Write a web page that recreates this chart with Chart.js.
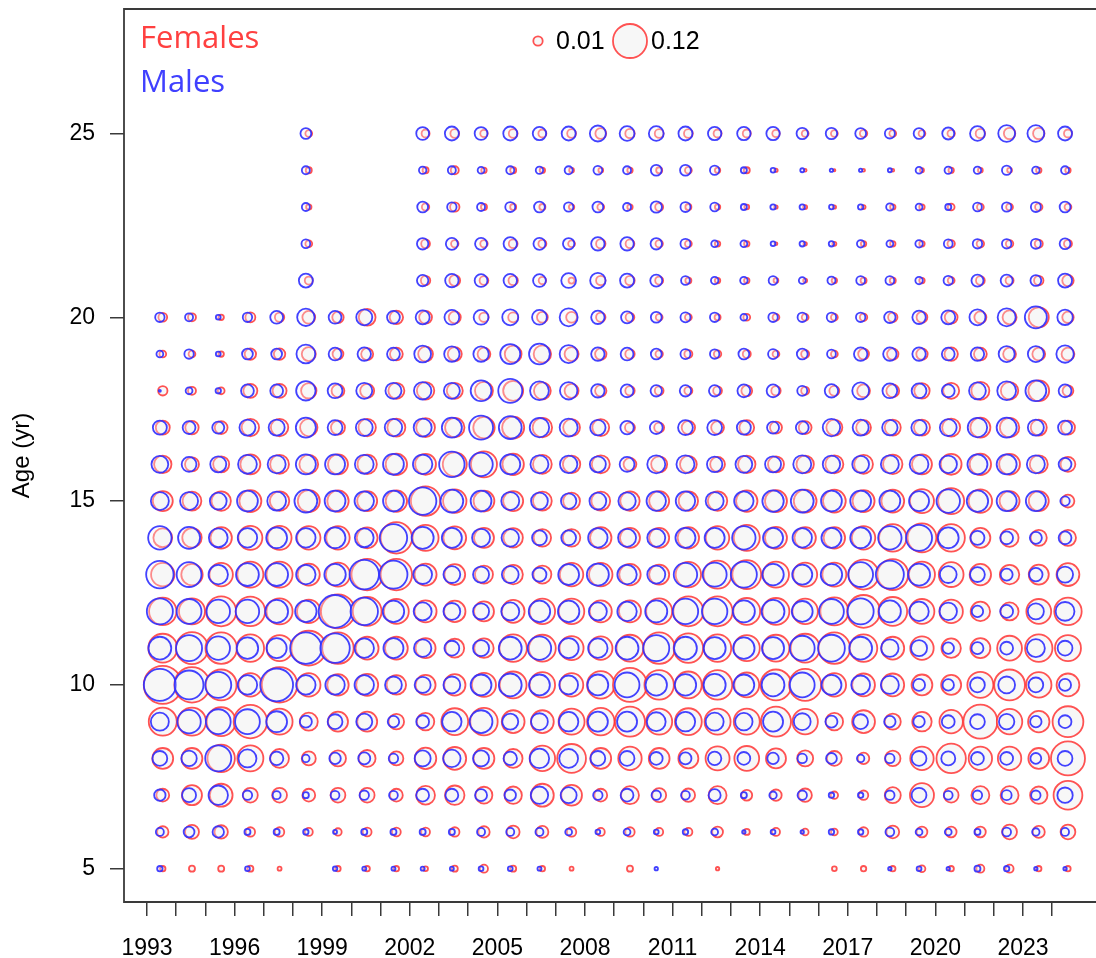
<!DOCTYPE html>
<html>
<head>
<meta charset="utf-8">
<script src="https://cdn.jsdelivr.net/npm/chart.js@4/dist/chart.umd.min.js"></script>
<style>
  html, body { margin: 0; padding: 0; background: #ffffff; }
  #wrap { width: 1096px; height: 958px; }
</style>
</head>
<body>
<div id="wrap"><canvas id="chart" width="1096" height="958"></canvas></div>
<script>
// Survey years and ages
const years = [1993,1994,1995,1996,1997,1998,1999,2000,2001,2002,2003,2004,2005,2006,2007,2008,
               2009,2010,2011,2012,2013,2014,2015,2016,2017,2018,2019,2020,2021,2022,2023,2024];
const ages = [5,6,7,8,9,10,11,12,13,14,15,16,17,18,19,20,21,22,23,24,25];
const yearTickLabels = [1993,1996,1999,2002,2005,2008,2011,2014,2017,2020,2023];
const ageTickLabels = [5,10,15,20,25];
const sizeKeyValues = [0.01, 0.12];

// Proportion at age, females, one array per age (1993..2024, null = not sampled)
const F5  = [.0036,.0044,.0044,.0044,.0021,null,.0036,.0036,.0036,.0029,.0044,.0074,.0044,.0036,.0021,null,.0044,null,null,.0016,null,null,null,.0029,.0036,.0036,.0055,.0036,.0074,.0074,.0036,.0036];
const F6  = [.0144,.0213,.0196,.0100,.0100,.0074,.0064,.0088,.0088,.0088,.0100,.0144,.0180,.0159,.0100,.0074,.0100,.0074,.0074,.0130,.0044,.0074,.0055,.0055,.0100,.0180,.0130,.0130,.0130,.0237,.0159,.0237];
const F7  = [.0180,.0424,.0548,.0237,.0237,.0180,.0237,.0237,.0180,.0376,.0400,.0303,.0324,.0548,.0458,.0180,.0346,.0213,.0196,.0346,.0130,.0144,.0196,.0064,.0100,.0276,.0605,.0237,.0346,.0346,.0324,.0864];
const F8  = [.0458,.0458,.0784,.0708,.0376,.0213,.0276,.0303,.0213,.0484,.0548,.0458,.0376,.0676,.0864,.0458,.0576,.0458,.0424,.0605,.0645,.0424,.0276,.0237,.0144,.0256,.0576,.0900,.0576,.0576,.0458,.1197];
const F9  = [.0818,.0818,.0864,.1156,.0708,.0346,.0424,.0424,.0256,.0324,.0751,.0784,.0548,.0548,.0708,.0784,.0936,.0708,.0751,.0708,.0708,.0936,.0676,.0324,.0548,.0276,.0400,.0576,.1197,.0676,.0484,.0986];
const F10 = [.1490,.1296,.0986,.0576,.1296,.0576,.0484,.0511,.0400,.0424,.0484,.0605,.0751,.0676,.0576,.0784,.1197,.0900,.0751,.0900,.0645,.0986,.1063,.0576,.0548,.0548,.0458,.0424,.0708,.0986,.0676,.0548];
const F11 = [.0864,.1063,.1024,.0784,.0708,.1253,.1024,.0548,.0548,.0424,.0376,.0400,.0784,.0751,.0605,.0576,.0751,.1024,.0900,.0784,.0708,.0751,.0864,.1024,.0784,.0548,.0576,.0400,.0424,.0645,.0784,.0708];
const F12 = [.0784,.0708,.0936,.0900,.0708,.0576,.1197,.0864,.0645,.0511,.0484,.0424,.0548,.0676,.0676,.0511,.0511,.0708,.0936,.0936,.0751,.0751,.0676,.0818,.1116,.0864,.0645,.0576,.0400,.0346,.0645,.0784];
const F13 = [.0576,.0484,.0576,.0708,.0708,.0511,.0605,.1024,.1024,.0511,.0458,.0346,.0400,.0346,.0576,.0576,.0484,.0424,.0676,.0818,.0864,.0708,.0605,.0605,.0936,.0986,.0708,.0645,.0484,.0400,.0424,.0548];
const F14 = [.0376,.0400,.0484,.0605,.0605,.0576,.0576,.0458,.1024,.0708,.0548,.0424,.0400,.0324,.0324,.0484,.0424,.0424,.0484,.0576,.0708,.0511,.0484,.0484,.0576,.0784,.0864,.0784,.0424,.0346,.0276,.0276];
const F15 = [.0424,.0376,.0400,.0511,.0400,.0511,.0484,.0424,.0484,.0900,.0576,.0458,.0424,.0376,.0303,.0376,.0400,.0424,.0400,.0400,.0484,.0511,.0548,.0548,.0511,.0548,.0605,.0708,.0576,.0424,.0424,.0180];
const F16 = [.0324,.0213,.0276,.0424,.0376,.0376,.0424,.0400,.0484,.0458,.0605,.0708,.0484,.0376,.0324,.0346,.0180,.0276,.0303,.0237,.0324,.0276,.0324,.0346,.0376,.0400,.0424,.0458,.0484,.0458,.0346,.0237];
const F17 = [.0213,.0196,.0180,.0324,.0324,.0324,.0213,.0324,.0346,.0376,.0400,.0484,.0511,.0400,.0303,.0303,.0112,.0112,.0196,.0180,.0237,.0159,.0180,.0276,.0237,.0276,.0276,.0346,.0424,.0400,.0276,.0213];
const F18 = [.0100,.0074,.0055,.0213,.0213,.0256,.0180,.0213,.0276,.0324,.0276,.0346,.0424,.0303,.0213,.0144,.0100,.0088,.0074,.0088,.0130,.0100,.0074,.0112,.0180,.0180,.0256,.0276,.0346,.0324,.0458,.0130];
const F19 = [.0055,.0055,.0036,.0144,.0144,.0213,.0130,.0159,.0180,.0237,.0213,.0180,.0303,.0324,.0213,.0144,.0100,.0064,.0074,.0064,.0074,.0055,.0074,.0055,.0130,.0144,.0144,.0196,.0180,.0180,.0180,.0180];
const F20 = [.0088,.0074,.0036,.0112,.0100,.0180,.0144,.0303,.0196,.0180,.0159,.0100,.0112,.0130,.0130,.0100,.0088,.0055,.0055,.0044,.0055,.0055,.0055,.0055,.0064,.0100,.0130,.0180,.0159,.0213,.0424,.0144];
const F21 = [null,null,null,null,null,.0074,null,null,null,.0100,.0130,.0088,.0100,.0064,.0044,.0100,.0100,.0074,.0044,.0036,.0036,.0029,.0021,.0036,.0044,.0044,.0036,.0055,.0088,.0074,.0100,.0144];
const F22 = [null,null,null,null,null,.0055,null,null,null,.0088,.0064,.0064,.0088,.0074,.0055,.0100,.0088,.0064,.0055,.0036,.0036,.0012,.0016,.0021,.0036,.0036,.0036,.0064,.0064,.0064,.0074,.0074];
const F23 = [null,null,null,null,null,.0036,null,null,null,.0064,.0100,.0044,.0044,.0044,.0036,.0055,.0036,.0074,.0044,.0036,.0029,.0016,.0021,.0016,.0021,.0036,.0036,.0055,.0055,.0055,.0064,.0055];
const F24 = [null,null,null,null,null,.0044,null,null,null,.0044,.0074,.0036,.0044,.0036,.0029,.0029,.0036,.0044,.0055,.0036,.0044,.0016,.0012,.0007,.0012,.0012,.0021,.0036,.0029,.0029,.0036,.0036];
const F25 = [null,null,null,null,null,.0055,null,null,null,.0074,.0088,.0064,.0088,.0074,.0088,.0130,.0100,.0088,.0088,.0074,.0074,.0064,.0055,.0055,.0064,.0055,.0055,.0064,.0100,.0144,.0144,.0074];

// Proportion at age, males
const M5  = [.0036,null,null,.0029,null,null,.0025,.0021,.0021,.0021,.0021,.0029,.0029,.0021,null,null,null,.0016,null,null,null,null,null,null,null,.0016,.0029,.0016,.0044,.0036,.0016,.0016];
const M6  = [.0074,.0130,.0144,.0044,.0044,.0036,.0021,.0044,.0044,.0044,.0044,.0074,.0074,.0074,.0055,.0029,.0055,.0029,.0036,.0055,.0016,.0029,.0016,.0036,.0036,.0088,.0055,.0055,.0044,.0088,.0064,.0074];
const M7  = [.0144,.0213,.0400,.0100,.0074,.0044,.0088,.0100,.0088,.0180,.0180,.0159,.0144,.0324,.0276,.0100,.0180,.0100,.0088,.0159,.0044,.0064,.0100,.0036,.0036,.0100,.0237,.0088,.0100,.0112,.0100,.0256];
const M8  = [.0237,.0256,.0708,.0346,.0196,.0064,.0144,.0159,.0100,.0276,.0324,.0276,.0196,.0400,.0376,.0237,.0237,.0180,.0159,.0196,.0180,.0144,.0100,.0130,.0064,.0100,.0237,.0213,.0180,.0180,.0130,.0237];
const M9  = [.0346,.0576,.0645,.0645,.0458,.0159,.0237,.0276,.0144,.0180,.0400,.0548,.0276,.0303,.0400,.0424,.0424,.0376,.0400,.0346,.0324,.0424,.0303,.0159,.0237,.0144,.0144,.0180,.0237,.0256,.0144,.0180];
const M10 = [.1063,.0864,.0708,.0400,.1116,.0400,.0400,.0400,.0303,.0276,.0303,.0458,.0548,.0458,.0376,.0458,.0645,.0484,.0484,.0511,.0458,.0548,.0645,.0424,.0376,.0346,.0159,.0144,.0237,.0303,.0237,.0159];
const M11 = [.0548,.0708,.0576,.0484,.0424,.1024,.0900,.0400,.0424,.0324,.0237,.0276,.0548,.0576,.0424,.0400,.0548,.0708,.0548,.0511,.0484,.0511,.0645,.0751,.0548,.0324,.0276,.0144,.0159,.0180,.0346,.0237];
const M12 = [.0708,.0645,.0576,.0576,.0548,.0484,.1116,.0784,.0484,.0346,.0303,.0276,.0346,.0484,.0484,.0346,.0400,.0511,.0676,.0676,.0511,.0548,.0458,.0645,.0708,.0511,.0400,.0324,.0144,.0180,.0276,.0376];
const M13 = [.0784,.0645,.0400,.0548,.0548,.0400,.0484,.0900,.0818,.0376,.0303,.0276,.0303,.0213,.0458,.0511,.0400,.0346,.0576,.0605,.0708,.0484,.0424,.0484,.0645,.0818,.0511,.0303,.0237,.0159,.0196,.0276];
const M14 = [.0576,.0511,.0376,.0400,.0458,.0400,.0458,.0376,.0784,.0511,.0424,.0346,.0324,.0237,.0237,.0400,.0346,.0346,.0424,.0424,.0576,.0424,.0400,.0424,.0458,.0576,.0708,.0458,.0213,.0180,.0159,.0180];
const M15 = [.0346,.0346,.0303,.0458,.0376,.0548,.0458,.0400,.0458,.0784,.0548,.0458,.0346,.0303,.0256,.0303,.0324,.0400,.0400,.0346,.0400,.0484,.0548,.0458,.0458,.0458,.0424,.0576,.0484,.0424,.0424,.0100];
const M16 = [.0303,.0237,.0276,.0376,.0346,.0424,.0424,.0376,.0458,.0400,.0676,.0576,.0424,.0346,.0324,.0276,.0237,.0346,.0346,.0256,.0303,.0276,.0346,.0324,.0303,.0346,.0376,.0324,.0424,.0424,.0346,.0180];
const M17 = [.0213,.0180,.0159,.0276,.0276,.0424,.0237,.0303,.0324,.0346,.0424,.0605,.0548,.0400,.0346,.0256,.0196,.0180,.0237,.0237,.0213,.0159,.0180,.0324,.0276,.0256,.0256,.0303,.0400,.0424,.0276,.0213];
const M18 = [.0007,.0055,.0036,.0180,.0180,.0400,.0237,.0276,.0276,.0324,.0276,.0458,.0605,.0376,.0324,.0196,.0180,.0144,.0144,.0144,.0180,.0180,.0112,.0196,.0303,.0237,.0237,.0180,.0303,.0376,.0458,.0180];
const M19 = [.0055,.0100,.0029,.0130,.0130,.0376,.0180,.0196,.0180,.0303,.0256,.0256,.0424,.0458,.0346,.0196,.0180,.0130,.0112,.0100,.0130,.0112,.0130,.0088,.0196,.0196,.0196,.0180,.0196,.0276,.0276,.0324];
const M20 = [.0100,.0074,.0029,.0100,.0180,.0324,.0180,.0276,.0180,.0213,.0237,.0237,.0276,.0237,.0346,.0196,.0159,.0130,.0112,.0100,.0055,.0100,.0100,.0100,.0100,.0144,.0196,.0213,.0276,.0346,.0511,.0256];
const M21 = [null,null,null,null,null,.0213,null,null,null,.0144,.0196,.0180,.0196,.0180,.0237,.0256,.0213,.0159,.0088,.0064,.0064,.0088,.0055,.0074,.0088,.0088,.0064,.0100,.0159,.0159,.0130,.0213];
const M22 = [null,null,null,null,null,.0088,null,null,null,.0144,.0159,.0159,.0196,.0159,.0144,.0196,.0196,.0144,.0112,.0055,.0055,.0029,.0036,.0036,.0064,.0055,.0064,.0088,.0100,.0100,.0112,.0130];
const M23 = [null,null,null,null,null,.0074,null,null,null,.0130,.0100,.0074,.0112,.0130,.0100,.0130,.0074,.0144,.0112,.0088,.0044,.0036,.0036,.0029,.0036,.0064,.0055,.0044,.0088,.0100,.0112,.0130];
const M24 = [null,null,null,null,null,.0074,null,null,null,.0064,.0074,.0055,.0074,.0064,.0074,.0088,.0074,.0130,.0130,.0100,.0044,.0029,.0021,.0016,.0016,.0021,.0055,.0064,.0064,.0100,.0064,.0074];
const M25 = [null,null,null,null,null,.0130,null,null,null,.0180,.0213,.0180,.0213,.0196,.0213,.0276,.0237,.0237,.0213,.0196,.0196,.0196,.0144,.0144,.0130,.0112,.0130,.0159,.0237,.0303,.0303,.0213];

const femaleRows = [F5,F6,F7,F8,F9,F10,F11,F12,F13,F14,F15,F16,F17,F18,F19,F20,F21,F22,F23,F24,F25];
const maleRows   = [M5,M6,M7,M8,M9,M10,M11,M12,M13,M14,M15,M16,M17,M18,M19,M20,M21,M22,M23,M24,M25];

// Circle area proportional to the proportion at age
const RADIUS_SCALE = 50;
const STROKE = 1.8;
function bubbleRadius(p) {
  return Math.max(1, RADIUS_SCALE * Math.sqrt(p) - 0.3);
}

// Males and females are nudged apart within each year
const MALE_SHIFT = 0.44;
const FEMALE_SHIFT = 0.54;

function toPoints(rows, shift) {
  const pts = [];
  rows.forEach((row, i) => {
    row.forEach((p, j) => {
      if (p !== null && p > 0) pts.push({ x: years[j] + shift, y: ages[i], r: bubbleRadius(p) });
    });
  });
  return pts;
}

const RED = 'rgba(255,45,45,0.82)';
const BLUE = 'rgba(45,45,255,0.9)';
const FONT = "'Liberation Sans', Arial, sans-serif";

// Axis boxes keep exactly the size given, without extra label padding
function fixBox(size, key) {
  return s => {
    s[key] = size;
    s.paddingTop = 0; s.paddingBottom = 0; s.paddingLeft = 0; s.paddingRight = 0;
  };
}

// Plot frame (left, top and bottom edges)
const framePlugin = {
  id: 'frame',
  afterDatasetsDraw(chart) {
    const { ctx, chartArea: a } = chart;
    ctx.save();
    ctx.strokeStyle = '#3a3a3a';
    ctx.lineWidth = 1.8;
    ctx.beginPath();
    ctx.moveTo(a.right + 2, a.top);
    ctx.lineTo(a.left, a.top);
    ctx.lineTo(a.left, a.bottom);
    ctx.lineTo(a.right + 2, a.bottom);
    ctx.stroke();
    ctx.restore();
  }
};

// Sex labels and circle-size key
const keyPlugin = {
  id: 'sizeKey',
  afterDraw(chart) {
    const { ctx } = chart;
    ctx.save();
    ctx.textBaseline = 'middle';
    ctx.textAlign = 'left';
    ctx.font = "31px 'Open Sans', sans-serif";
    ctx.fillStyle = '#ff4040';
    ctx.fillText('Females', 140, 39);
    ctx.fillStyle = '#4040ff';
    ctx.fillText('Males', 140, 83);

    const keyX = [538, 630];
    const textX = [556, 651];
    const cy = 41;
    ctx.font = '25px ' + FONT;
    sizeKeyValues.forEach((v, i) => {
      ctx.beginPath();
      ctx.arc(keyX[i], cy, bubbleRadius(v), 0, Math.PI * 2);
      ctx.fillStyle = '#f7f7f7';
      ctx.fill();
      ctx.lineWidth = STROKE;
      ctx.strokeStyle = RED;
      ctx.stroke();
      ctx.fillStyle = '#000';
      ctx.fillText(String(v), textX[i], cy + 1);
    });
    ctx.restore();
  }
};

new Chart(document.getElementById('chart'), {
  type: 'bubble',
  data: {
    datasets: [
      {
        label: 'Males',
        data: toPoints(maleRows, MALE_SHIFT),
        borderColor: BLUE,
        backgroundColor: 'rgba(247,247,247,0.35)',
        borderWidth: STROKE,
        order: 0
      },
      {
        label: 'Females',
        data: toPoints(femaleRows, FEMALE_SHIFT),
        borderColor: RED,
        backgroundColor: '#f7f7f7',
        borderWidth: STROKE,
        order: 1
      }
    ]
  },
  options: {
    responsive: false,
    animation: false,
    devicePixelRatio: 1,
    events: [],
    layout: { autoPadding: false, padding: { top: 9, right: 0, left: 0, bottom: 0 } },
    plugins: { legend: { display: false }, tooltip: { enabled: false } },
    elements: { point: { hoverRadius: 0 } },
    scales: {
      x: {
        type: 'linear',
        min: 1992.212,
        max: 2025.5,
        afterBuildTicks: s => { s.ticks = years.map(v => ({ value: v })); },
        afterFit: fixBox(56, 'height'),
        ticks: {
          autoSkip: false,
          maxRotation: 0,
          padding: 19,
          color: '#000',
          font: { family: FONT, size: 23 },
          callback: v => (yearTickLabels.includes(v) ? String(v) : '')
        },
        grid: { drawOnChartArea: false, drawTicks: true, tickLength: 14, color: '#3a3a3a', lineWidth: 1.5 },
        border: { display: false }
      },
      y: {
        type: 'linear',
        min: 4.094,
        max: 28.387,
        afterBuildTicks: s => { s.ticks = ageTickLabels.map(v => ({ value: v })); },
        afterFit: fixBox(124, 'width'),
        ticks: {
          padding: 15,
          color: '#000',
          font: { family: FONT, size: 23 },
          callback: v => String(v)
        },
        title: { display: true, text: 'Age (yr)', color: '#000', font: { family: FONT, size: 24 }, padding: { top: 8, bottom: 0 } },
        grid: { drawOnChartArea: false, drawTicks: true, tickLength: 14, color: '#3a3a3a', lineWidth: 1.5 },
        border: { display: false }
      }
    }
  },
  plugins: [framePlugin, keyPlugin]
});
</script>
</body>
</html>
